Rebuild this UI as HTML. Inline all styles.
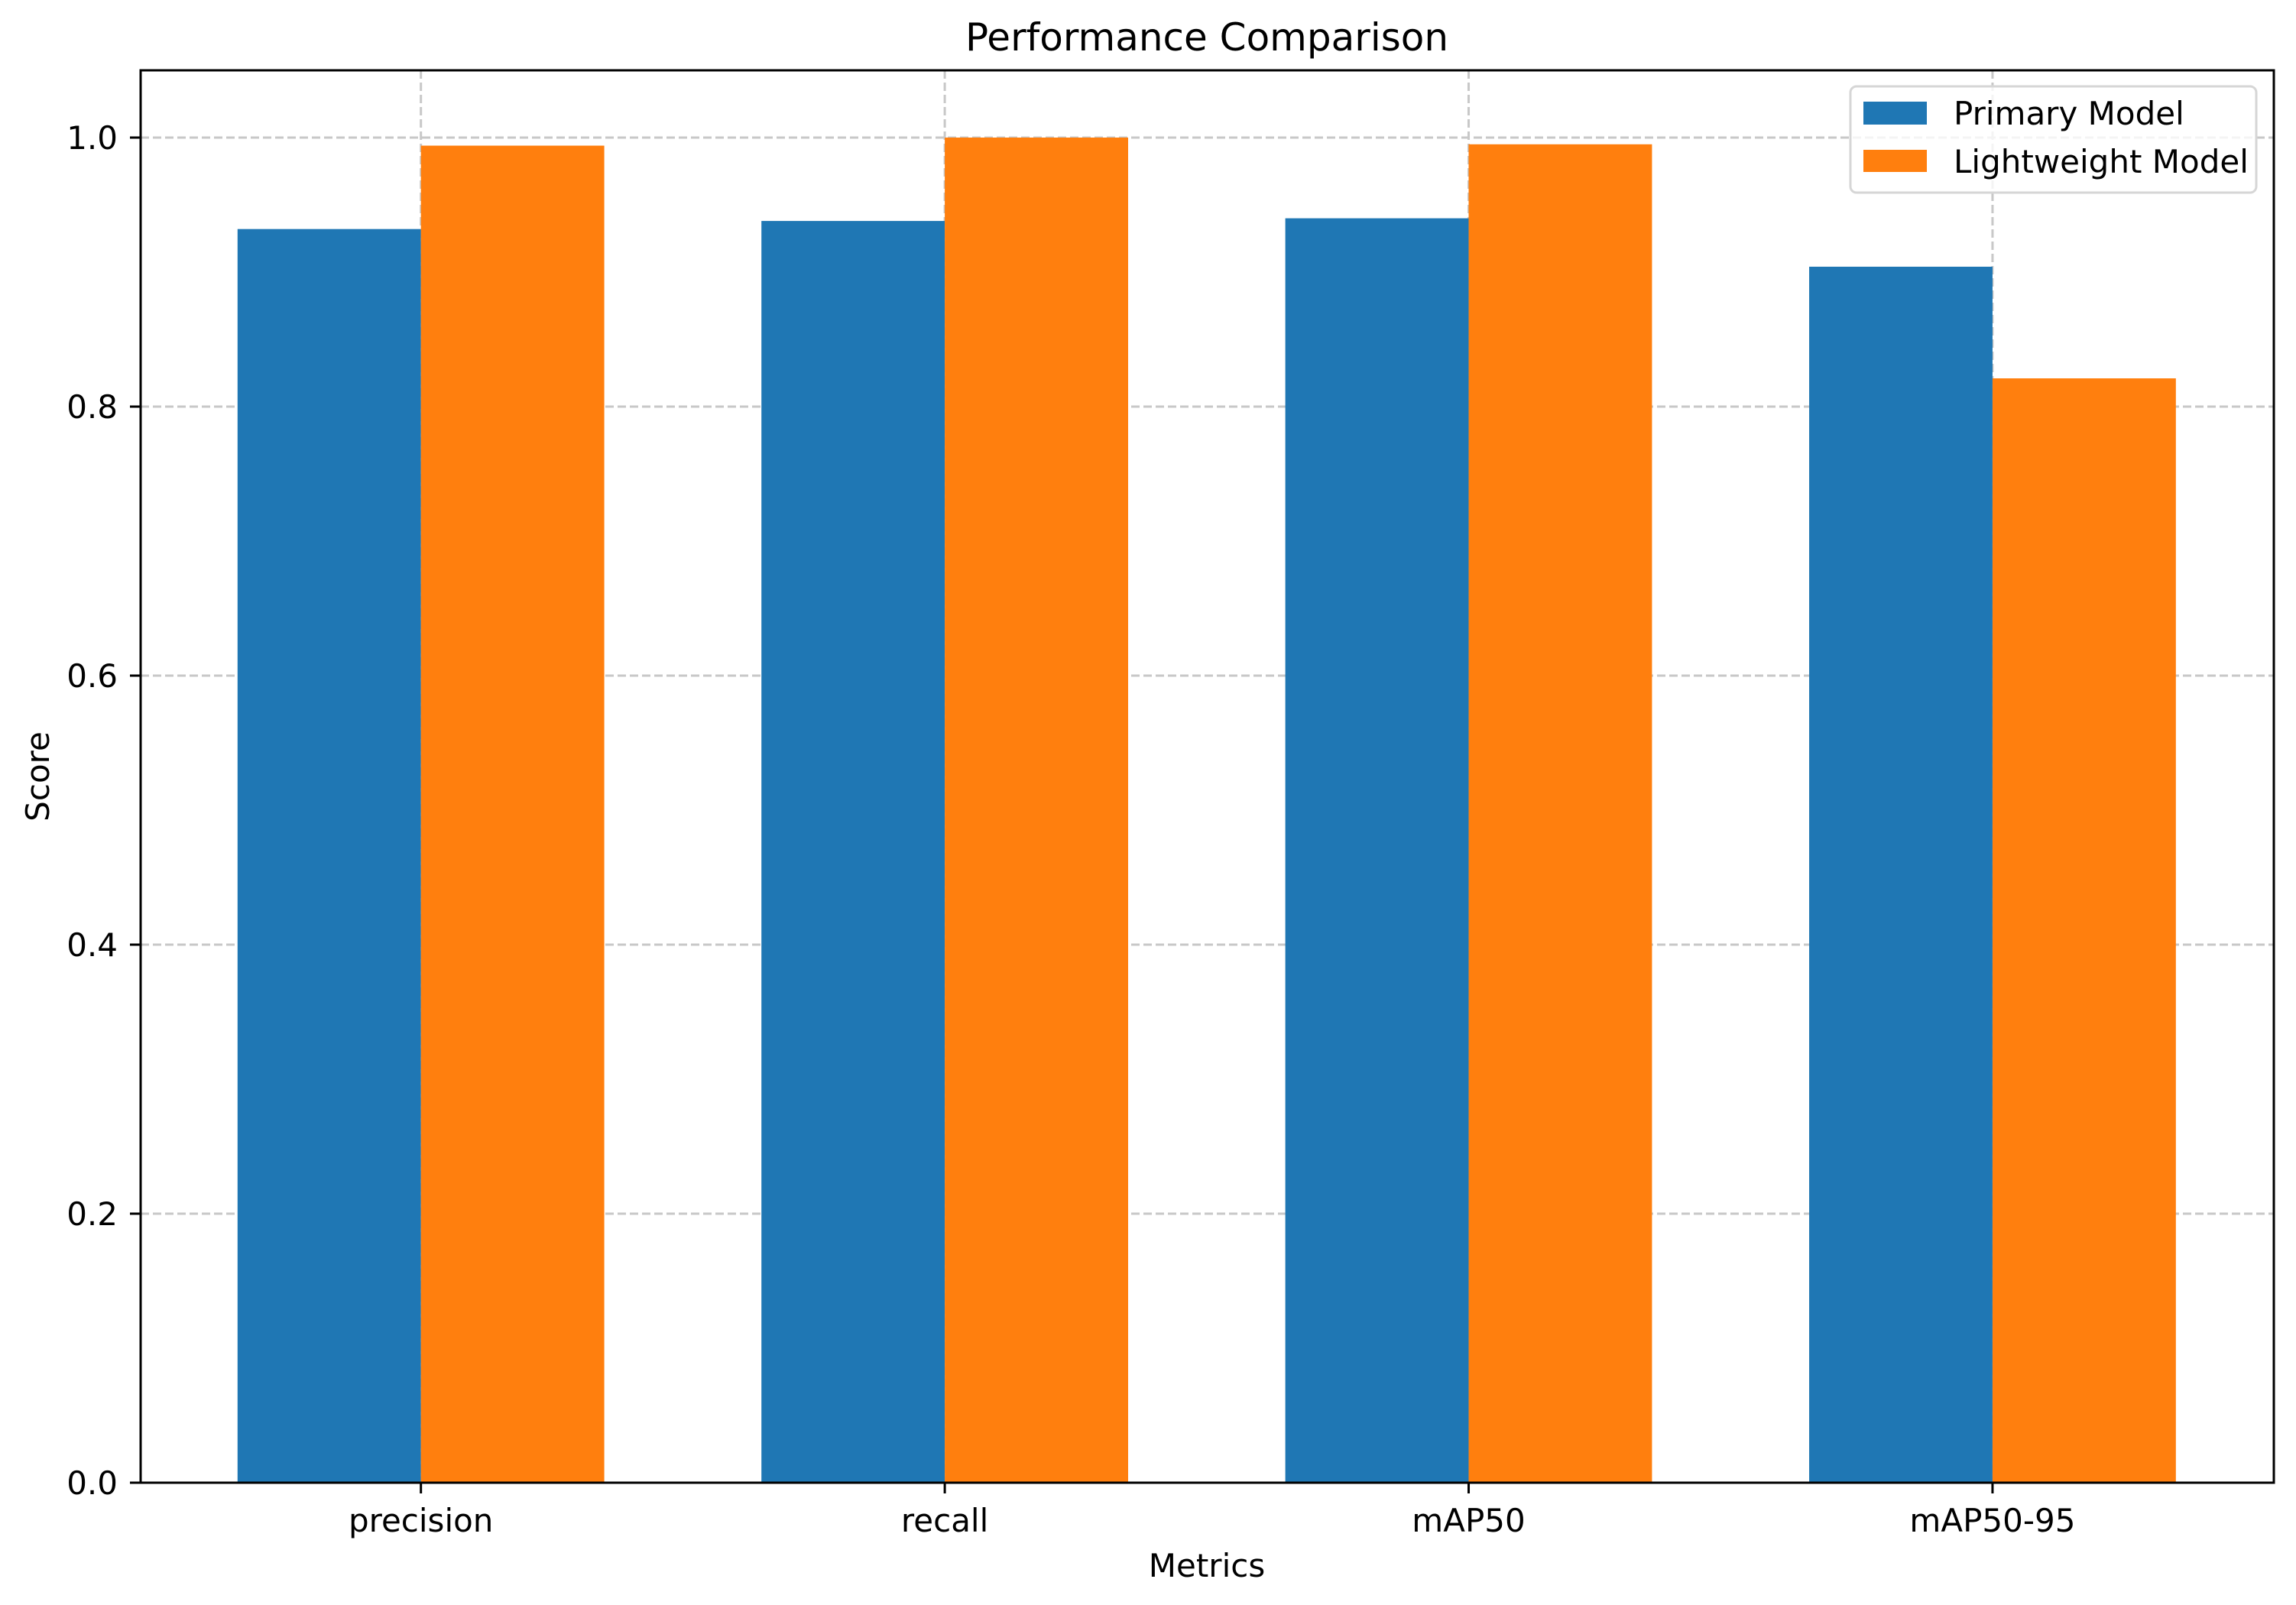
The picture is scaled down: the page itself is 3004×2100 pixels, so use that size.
<!DOCTYPE html>
<html><head><meta charset="utf-8"><style>
html,body{margin:0;padding:0;background:#fff;}
svg{display:block;font-family:"DejaVu Sans","Liberation Sans",sans-serif;}
</style></head><body>
<svg id="chart" width="3004" height="2100" viewBox="0 0 3004 2100">
<g id="grid"></g>
<g id="bars"></g>
<g id="axes"></g>
<text x="1579" y="66" font-size="50" text-anchor="middle">Performance Comparison</text>
<text x="1579" y="2063" font-size="42" text-anchor="middle">Metrics</text>
<text transform="translate(64,1016) rotate(-90)" font-size="42" text-anchor="middle">Score</text>
<g>
<rect x="2421" y="113" width="531" height="139" rx="8" fill="#fff" fill-opacity="0.8" stroke="#d6d6d6" stroke-width="3"/>
<rect x="2438" y="133" width="83" height="30" fill="#1f77b4"/>
<text x="2556" y="163" font-size="42">Primary Model</text>
<rect x="2438" y="196" width="83" height="29" fill="#ff7f0e"/>
<text x="2556" y="226" font-size="42">Lightweight Model</text>
</g>
</svg>
<script>
const categories = ["precision","recall","mAP50","mAP50-95"];
const primaryValues = [0.932,0.938,0.940,0.904];
const lightweightValues = [0.994,1.000,0.995,0.821];
const yTicks = [0.0,0.2,0.4,0.6,0.8,1.0];
const yTickLabels = ["0.0","0.2","0.4","0.6","0.8","1.0"];

const NS="http://www.w3.org/2000/svg";
const L=184,R=2975,T=92,B=1940;
const xMin=-0.535,xMax=3.537,yMin=0,yMax=1.05;
const xs=v=>L+(v-xMin)/(xMax-xMin)*(R-L);
const ys=v=>B-(v-yMin)/(yMax-yMin)*(B-T);
const barW=0.35;
function mk(tag,attrs,parent){const e=document.createElementNS(NS,tag);for(const k in attrs)e.setAttribute(k,attrs[k]);parent.appendChild(e);return e;}
const grid=document.getElementById('grid'),bars=document.getElementById('bars'),axes=document.getElementById('axes');

yTicks.forEach((t,i)=>{
  const g=mk('line',{x1:L,x2:R,y1:ys(t),y2:ys(t),stroke:'#c8c8c8','stroke-width':3,'stroke-dasharray':'11 5'},grid);
  
  
  const tk=mk('line',{x1:L-14,x2:L,y1:ys(t),y2:ys(t),stroke:'#000','stroke-width':3},axes);
  
  
  const tx=mk('text',{x:L-30,y:ys(t)+15,'font-size':42,'text-anchor':'end'},axes);
  tx.textContent=yTickLabels[i];
  
  
});
categories.forEach((c,i)=>{
  const g=mk('line',{x1:xs(i),x2:xs(i),y1:T,y2:B,stroke:'#c8c8c8','stroke-width':3,'stroke-dasharray':'11 5'},grid);
  
  
  const b1=mk('rect',{x:xs(i-barW),y:ys(primaryValues[i]),width:xs(i)-xs(i-barW),height:ys(0)-ys(primaryValues[i]),fill:'#1f77b4'},bars);
  
  
  const b2=mk('rect',{x:xs(i),y:ys(lightweightValues[i]),width:xs(i+barW)-xs(i),height:ys(0)-ys(lightweightValues[i]),fill:'#ff7f0e'},bars);
  
  
  const tk=mk('line',{x1:xs(i),x2:xs(i),y1:B,y2:B+14,stroke:'#000','stroke-width':3},axes);
  
  
  const tx=mk('text',{x:xs(i),y:2004,'font-size':42,'text-anchor':'middle'},axes);
  tx.textContent=c;
  
  
});
const fr=mk('rect',{x:L,y:T,width:R-L,height:B-T,fill:'none',stroke:'#000','stroke-width':3},axes);


</script>
</body></html>
